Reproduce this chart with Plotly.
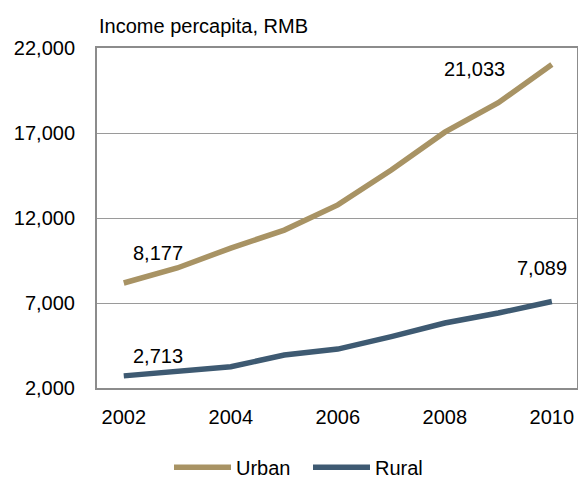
import plotly.graph_objects as go

years = [2002, 2003, 2004, 2005, 2006, 2007, 2008, 2009, 2010]
urban = [8177, 9060, 10230, 11290, 12770, 14820, 17050, 18780, 21033]
rural = [2713, 3000, 3250, 3940, 4290, 5020, 5820, 6410, 7089]

y_ticks = [2000, 7000, 12000, 17000, 22000]
x_ticks = [2002, 2004, 2006, 2008, 2010]

URBAN_COLOR = "#A89364"
RURAL_COLOR = "#3E5A72"
FONT = "Liberation Sans, Arial, sans-serif"
FS = 20

fig = go.Figure()
fig.add_trace(go.Scatter(x=years, y=urban, mode="lines", name="Urban",
                         line=dict(color=URBAN_COLOR, width=5.5)))
fig.add_trace(go.Scatter(x=years, y=rural, mode="lines", name="Rural",
                         line=dict(color=RURAL_COLOR, width=5.5)))

# value labels at the first and last point of each series
def label(x, y, xshift, yshift):
    fig.add_annotation(x=x, y=y, text=f"{y:,}", showarrow=False,
                       xshift=xshift, yshift=yshift,
                       font=dict(family=FONT, size=FS, color="#000"))

label(years[0], urban[0], 34, 30)
label(years[-1], urban[-1], -77, -5)
label(years[0], rural[0], 34, 20)
label(years[-1], rural[-1], -10, 33)

fig.add_annotation(text="Income percapita, RMB", xref="paper", yref="paper",
                   x=0, y=1, xanchor="left", yanchor="bottom", yshift=9,
                   showarrow=False, font=dict(family=FONT, size=FS, color="#000"))

fig.update_layout(
    width=578, height=479,
    margin=dict(l=97, r=1, t=48, b=91, autoexpand=False),
    paper_bgcolor="white", plot_bgcolor="white",
    font=dict(family=FONT, size=FS, color="#000"),
    showlegend=True,
    legend=dict(orientation="h", x=0.15, xanchor="left",
                y=-0.233, yanchor="middle",
                font=dict(size=FS), traceorder="normal",
                itemwidth=57, entrywidth=67, entrywidthmode="pixels"),
)

fig.update_xaxes(range=[2001.5, 2010.47], tickvals=x_ticks,
                 showgrid=False, zeroline=False,
                 showline=True, mirror=True, linecolor="#8C8C8C", linewidth=2,
                 ticks="", ticklabelstandoff=10)
fig.update_yaxes(range=[2000, 22000], tickvals=y_ticks, tickformat=",",
                 showgrid=True, gridcolor="#9A9A9A", gridwidth=1.3,
                 zeroline=False,
                 showline=True, mirror=True, linecolor="#8C8C8C", linewidth=2,
                 ticks="", ticklabelstandoff=16)

fig.write_html("out.html")
